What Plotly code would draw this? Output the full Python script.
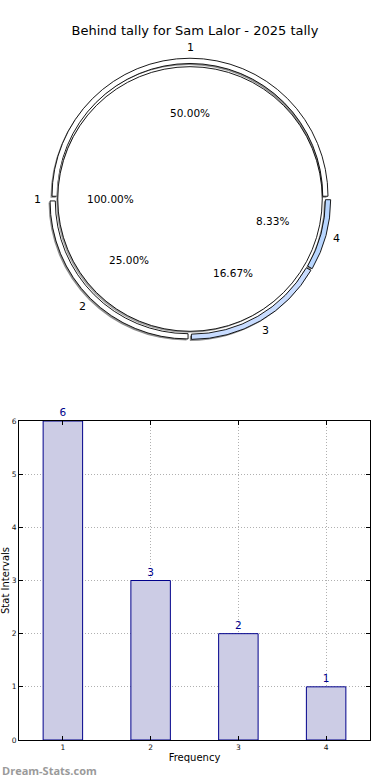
import math
import plotly.graph_objects as go

# ---- data ----
title_text = "Behind tally for Sam Lalor - 2025 tally"
ring_labels = ["1", "2", "3", "4"]
ring_values = [6, 3, 2, 1]
ring_colors = ["#ffffff", "#ffffff", "#c8dcff", "#b8d6ff"]
inner_labels = ["1"]
inner_values = [12]
bar_categories = [1, 2, 3, 4]
bar_values = [6, 3, 2, 1]
y_ticks = [0, 1, 2, 3, 4, 5, 6]
x_title = "Frequency"
y_title = "Stat Intervals"
watermark = "Dream-Stats.com"

W, H = 390, 780
FONT = "DejaVu Sans"

# ---- pie geometry (pixels) ----
cx, cy = 190, 199
ring_r = 138
pull = 0.02
hole = 0.962
inner_r = ring_r * hole - 0.5


def dom(cxp, cyp, s):
    return dict(x=[(cxp - s) / W, (cxp + s) / W],
                y=[1 - (cyp + s) / H, 1 - (cyp - s) / H])


ring_S = ring_r * (1 + pull)
fig = go.Figure()

# shadow of ring
fig.add_trace(go.Pie(
    labels=ring_labels, values=ring_values, sort=False, direction="counterclockwise",
    rotation=-90, hole=hole, pull=[pull] * len(ring_values),
    marker=dict(colors=["#8f8f8f"] * len(ring_values), line=dict(width=0)),
    textinfo="none", hoverinfo="skip", showlegend=False,
    domain=dom(cx - 1.5, cy + 1.5, ring_S)))

# ring
fig.add_trace(go.Pie(
    labels=ring_labels, values=ring_values, sort=False, direction="counterclockwise",
    rotation=-90, hole=hole, pull=[pull] * len(ring_values),
    marker=dict(colors=ring_colors, line=dict(color="#000000", width=0.9)),
    textinfo="none", showlegend=False,
    domain=dom(cx, cy, ring_S)))

# inner shadow
fig.add_trace(go.Pie(
    labels=inner_labels, values=inner_values, sort=False, direction="counterclockwise",
    rotation=-90,
    marker=dict(colors=["#a0a0a0"], line=dict(width=0)),
    textinfo="none", hoverinfo="skip", showlegend=False,
    domain=dom(cx - 1.5, cy + 1.5, inner_r)))

# inner pie
fig.add_trace(go.Pie(
    labels=inner_labels, values=inner_values, sort=False, direction="counterclockwise",
    rotation=-90,
    marker=dict(colors=["#ffffff"], line=dict(color="#000000", width=0.9)),
    textinfo="none", showlegend=False,
    domain=dom(cx, cy, inner_r)))


# ---- pie text positions derived from the data (angles) ----
def mid_angles(vals):
    tot = sum(vals)
    out, acc = [], 0
    for v in vals:
        out.append((acc + v / 2) / tot * 2 * math.pi)
        acc += v
    return out


def pos(theta, rad):
    return (cx + rad * math.cos(theta)) / W, 1 - (cy - rad * math.sin(theta)) / H


def txt(text, x, y, size):
    return dict(text=text, x=x, y=y, xref="paper", yref="paper", showarrow=False,
                xanchor="center", yanchor="middle",
                font=dict(family=FONT, size=size, color="#000"))


annots = []
rtot = sum(ring_values)
for lab, v, th in zip(ring_labels, ring_values, mid_angles(ring_values)):
    annots.append(txt(lab, *pos(th, ring_r * (1.08 + pull)), 11))
    annots.append(txt(f"{v / rtot * 100:.2f}%", *pos(th, ring_r * (0.6 + pull)), 10.5))
itot = sum(inner_values)
for lab, v, th in zip(inner_labels, inner_values, mid_angles(inner_values)):
    annots.append(txt(lab, *pos(th, inner_r * 1.15), 11))
    annots.append(txt(f"{v / itot * 100:.2f}%", *pos(th, inner_r * 0.6), 10.5))

annots.append(dict(text="<b>" + watermark + "</b>", x=0, y=1 - 770 / H,
                   xref="paper", yref="paper", xanchor="left", yanchor="middle",
                   showarrow=False, font=dict(family="Open Sans", size=11, color="#9a9a9a")))

# ---- bar chart ----
fig.add_trace(go.Bar(
    x=bar_categories, y=bar_values, width=0.45,
    marker=dict(color="#ccccE5", line=dict(color="#00008b", width=1)),
    text=[str(v) for v in bar_values], textposition="outside",
    textfont=dict(family=FONT, size=10.5, color="#00008b"),
    cliponaxis=False, showlegend=False, xaxis="x", yaxis="y"))

fig.update_layout(
    width=W, height=H, autosize=False,
    margin=dict(l=0, r=0, t=0, b=0, autoexpand=False),
    paper_bgcolor="white", plot_bgcolor="white",
    font=dict(family=FONT, color="#000000"),
    title=dict(text=title_text, x=195 / W, xanchor="center", y=1 - 30 / H,
               yanchor="middle", font=dict(family=FONT, size=13, color="#000000")),
    xaxis=dict(domain=[19 / W, 370 / W], range=[0.5, 4.5], automargin=False,
               tickvals=bar_categories, ticktext=[str(c) for c in bar_categories],
               tickfont=dict(size=7.5, color="#111"),
               ticks="inside", ticklen=4, tickcolor="#000",
               showline=True, linecolor="#000", linewidth=1, mirror="allticks",
               showgrid=True, gridcolor="#b0b0b0", griddash="1px,2px", gridwidth=1,
               zeroline=False,
               title=dict(text=x_title, font=dict(size=10), standoff=2)),
    yaxis=dict(domain=[1 - 740 / H, 1 - 421 / H], range=[0, 6], automargin=False,
               tickvals=y_ticks, tickfont=dict(size=7.5, color="#111"),
               ticks="inside", ticklen=4, tickcolor="#000",
               showline=True, linecolor="#000", linewidth=1, mirror="allticks",
               showgrid=True, gridcolor="#b0b0b0", griddash="1px,2px", gridwidth=1,
               zeroline=False,
               title=dict(text=y_title, font=dict(size=10), standoff=10)),
    annotations=annots,
)

fig.write_html("out.html", config={"displayModeBar": False},
               post_script="document.body.style.margin='0';")
